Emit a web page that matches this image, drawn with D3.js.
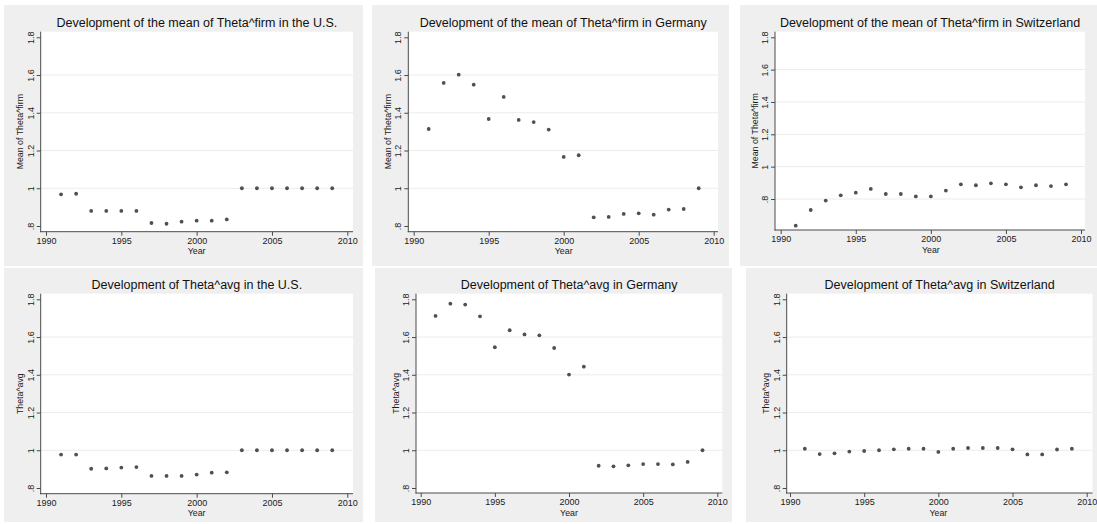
<!DOCTYPE html>
<html>
<head>
<meta charset="utf-8">
<script src="https://cdn.jsdelivr.net/npm/d3@7"></script>
<style>
  html, body { margin: 0; padding: 0; background: #ffffff; }
  svg { display: block; }
  text { font-family: "Liberation Sans", Arial, sans-serif; }
</style>
</head>
<body>
<svg id="chart" width="1097" height="524"></svg>
<script>
// ---------------- DATA ----------------
const years = [1991, 1992, 1993, 1994, 1995, 1996, 1997, 1998, 1999, 2000,
               2001, 2002, 2003, 2004, 2005, 2006, 2007, 2008, 2009];

const usFirm = [0.968, 0.971, 0.880, 0.880, 0.880, 0.880, 0.816, 0.812, 0.823, 0.828,
                0.828, 0.835, 1.000, 1.000, 1.000, 1.000, 1.000, 1.000, 1.000];
const deFirm = [1.314, 1.558, 1.602, 1.549, 1.367, 1.484, 1.362, 1.351, 1.311, 1.166,
                1.175, 0.846, 0.848, 0.864, 0.867, 0.860, 0.887, 0.890, 1.000];
const chFirm = [0.635, 0.732, 0.790, 0.823, 0.839, 0.862, 0.831, 0.831, 0.816, 0.816,
                0.852, 0.891, 0.885, 0.897, 0.891, 0.872, 0.885, 0.880, 0.891];
const usAvg  = [0.977, 0.977, 0.902, 0.904, 0.908, 0.911, 0.864, 0.864, 0.864, 0.871,
                0.881, 0.883, 1.000, 1.000, 1.000, 1.000, 1.000, 1.000, 1.000];
const deAvg  = [1.712, 1.777, 1.772, 1.710, 1.546, 1.636, 1.614, 1.609, 1.542, 1.401,
                1.443, 0.918, 0.915, 0.920, 0.927, 0.927, 0.925, 0.938, 1.000];
const chAvg  = [1.008, 0.980, 0.984, 0.993, 0.996, 1.000, 1.005, 1.008, 1.008, 0.991,
                1.008, 1.012, 1.012, 1.012, 1.005, 0.978, 0.978, 1.004, 1.008];

const titles = [
  "Development of the mean of Theta^firm in the U.S.",
  "Development of the mean of Theta^firm in Germany",
  "Development of the mean of Theta^firm in Switzerland",
  "Development of Theta^avg in the U.S.",
  "Development of Theta^avg in Germany",
  "Development of Theta^avg in Switzerland"
];
const yTitles = ["Mean of Theta^firm", "Mean of Theta^firm", "Mean of Theta^firm",
                 "Theta^avg", "Theta^avg", "Theta^avg"];
const xTitle = "Year";
const xTicks = [1990, 1995, 2000, 2005, 2010];
const xTickLabels = ["1990", "1995", "2000", "2005", "2010"];
const yTicks = [0.8, 1.0, 1.2, 1.4, 1.6, 1.8];
const yTickLabels = [".8", "1", "1.2", "1.4", "1.6", "1.8"];
const series = [usFirm, deFirm, chFirm, usAvg, deAvg, chAvg];

// ---------------- LAYOUT (pixel geometry of each panel) ----------------
// panel box, plot region, and pixel anchors for the scales
const layout = [
  { px0: 4,   py0: 5,   px1: 363,  py1: 266, L: 40.7,  R: 353,    T: 31.7,  B: 231.7, x0: 46,    x1: 347.3,  yLo: 226, yHi: 37.3 },
  { px0: 372, py0: 5,   px1: 729,  py1: 266, L: 408.3, R: 718,    T: 31.7,  B: 231.7, x0: 413.7, x1: 713.7,  yLo: 226, yHi: 37.3 },
  { px0: 740, py0: 5,   px1: 1097, py1: 266, L: 775,   R: 1085,   T: 31.7,  B: 230,   x0: 780.7, x1: 1081,   yLo: 199, yHi: 37.3 },
  { px0: 4,   py0: 268, px1: 363,  py1: 522, L: 40.7,  R: 353,    T: 293.7, B: 493.7, x0: 46,    x1: 347.3,  yLo: 488, yHi: 299.3 },
  { px0: 375, py0: 268, px1: 732,  py1: 522, L: 416,   R: 722.3,  T: 293.7, B: 493,   x0: 420.7, x1: 717.3,  yLo: 488, yHi: 299.3 },
  { px0: 746, py0: 268, px1: 1097, py1: 522, L: 786.7, R: 1092.5, T: 293.7, B: 493,   x0: 790,   x1: 1086.7, yLo: 488, yHi: 299.3 }
];

const panelFill = "#efefef";
const axisColor = "#4a4a4a";
const textColor = "#1a1a1a";
const gridColor = "#ececec";
const markerColor = "#505050";

const svg = d3.select("#chart");

layout.forEach((g, i) => {
  const grp = svg.append("g");
  const x = d3.scaleLinear().domain([1990, 2010]).range([g.x0, g.x1]);
  const y = d3.scaleLinear().domain([0.8, 1.8]).range([g.yLo, g.yHi]);

  // panel background
  grp.append("rect")
    .attr("x", g.px0).attr("y", g.py0)
    .attr("width", g.px1 - g.px0).attr("height", g.py1 - g.py0)
    .attr("fill", panelFill);

  // plot region
  grp.append("rect")
    .attr("x", g.L).attr("y", g.T)
    .attr("width", g.R - g.L).attr("height", g.B - g.T)
    .attr("fill", "#ffffff");

  // gridlines (not drawn when too close to the plot region edges)
  grp.append("g").selectAll("line")
    .data(yTicks.filter(v => y(v) - g.T > 8 && g.B - y(v) > 8))
    .join("line")
    .attr("x1", g.L).attr("x2", g.R)
    .attr("y1", d => y(d)).attr("y2", d => y(d))
    .attr("stroke", gridColor).attr("stroke-width", 1);

  // title
  grp.append("text")
    .attr("x", (g.L + g.R) / 2).attr("y", g.T - 4.6)
    .attr("text-anchor", "middle")
    .attr("font-size", "12.5px")
    .attr("fill", "#111")
    .text(titles[i]);

  // x axis (ticks + labels)
  const xAxis = d3.axisBottom(x).tickValues(xTicks)
    .tickFormat((d, k) => xTickLabels[k]).tickSize(4).tickSizeOuter(0).tickPadding(2);
  const xg = grp.append("g").attr("transform", `translate(0,${g.B})`).call(xAxis);
  xg.select(".domain").remove();
  xg.selectAll(".tick line").attr("stroke", axisColor);
  xg.selectAll(".tick text").attr("fill", textColor)
    .attr("font-size", "9px").attr("font-family", "Liberation Sans, Arial, sans-serif");

  // y axis (ticks + rotated labels)
  const yAxis = d3.axisLeft(y).tickValues(yTicks)
    .tickFormat((d, k) => yTickLabels[k]).tickSize(4).tickSizeOuter(0);
  const yg = grp.append("g").attr("transform", `translate(${g.L},0)`).call(yAxis);
  yg.select(".domain").remove();
  yg.selectAll(".tick line").attr("stroke", axisColor);
  yg.selectAll(".tick text")
    .attr("fill", textColor)
    .attr("font-size", "9px").attr("font-family", "Liberation Sans, Arial, sans-serif")
    .attr("x", null).attr("dy", null)
    .attr("text-anchor", "middle")
    .attr("transform", "translate(-7,0) rotate(-90)");

  // axis lines spanning the plot region
  grp.append("line")
    .attr("x1", g.L).attr("x2", g.L).attr("y1", g.T).attr("y2", g.B + 0.5)
    .attr("stroke", axisColor).attr("stroke-width", 1);
  grp.append("line")
    .attr("x1", g.L - 0.5).attr("x2", g.R).attr("y1", g.B).attr("y2", g.B)
    .attr("stroke", axisColor).attr("stroke-width", 1);

  // axis titles
  grp.append("text")
    .attr("x", (g.x0 + g.x1) / 2).attr("y", g.B + 22.5)
    .attr("text-anchor", "middle").attr("font-size", "8.8px").attr("fill", textColor)
    .text(xTitle);
  grp.append("text")
    .attr("transform", `translate(${g.L - 17.5},${(g.T + g.B) / 2}) rotate(-90)`)
    .attr("text-anchor", "middle").attr("font-size", "8.8px").attr("fill", textColor)
    .text(yTitles[i]);

  // markers
  grp.append("g").selectAll("circle")
    .data(years.map((yr, k) => ({ yr, v: series[i][k] })))
    .join("circle")
    .attr("cx", d => x(d.yr)).attr("cy", d => y(d.v))
    .attr("r", 1.9)
    .attr("fill", markerColor);
});
</script>
</body>
</html>
